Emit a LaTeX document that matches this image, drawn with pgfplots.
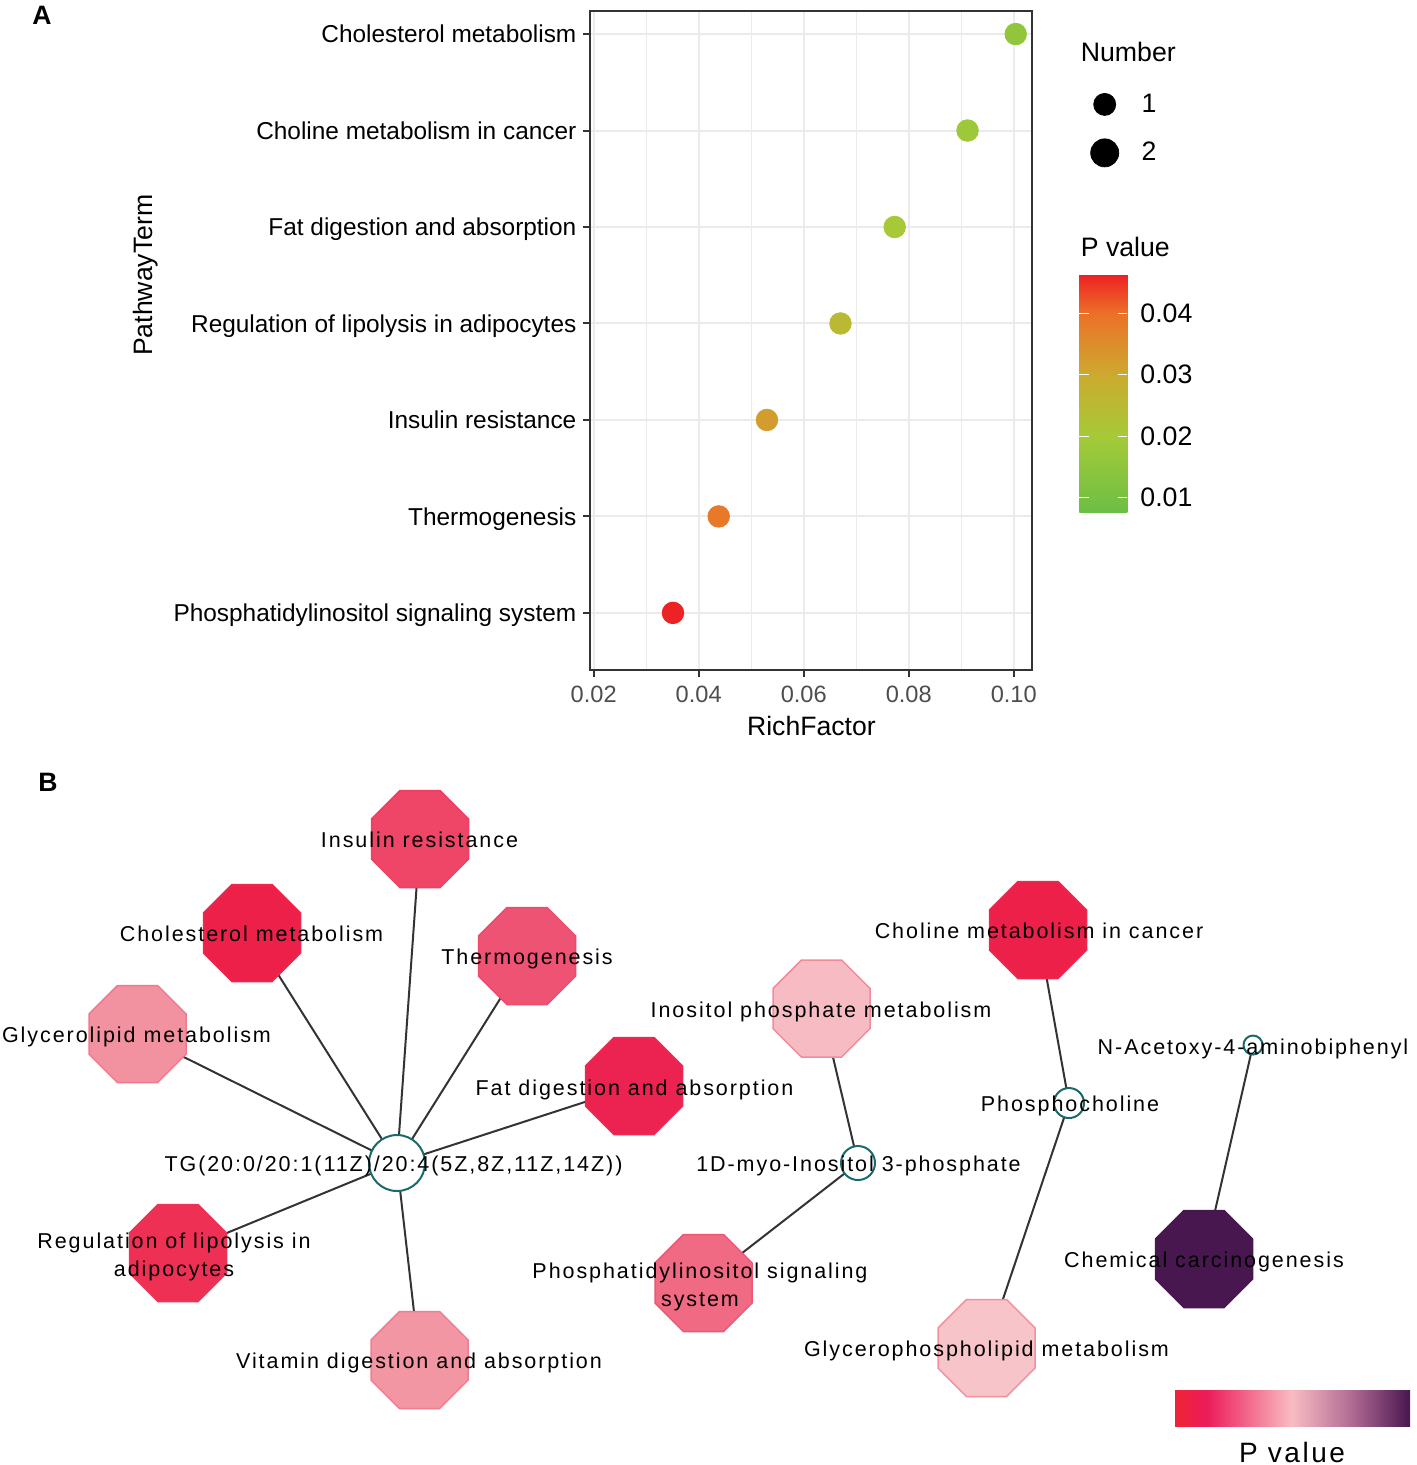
\documentclass[border=0pt]{standalone}
\usepackage{fontspec}
\setmainfont{Liberation Sans}
\newfontfamily\netfont[LetterSpace=9]{Liberation Sans}
\usepackage{pgfplots}
\pgfplotsset{compat=1.18}

\definecolor{gridgray}{HTML}{EBEBEB}
\definecolor{framegray}{HTML}{333333}
\definecolor{ticktext}{HTML}{4D4D4D}
\definecolor{edgecol}{HTML}{333333}
\definecolor{cpdteal}{HTML}{1B6A6A}
% pathway node fills / borders
\definecolor{fInsulin}{HTML}{EF4567}\definecolor{bInsulin}{HTML}{EE3E62}
\definecolor{fChol}{HTML}{EC2049}\definecolor{bChol}{HTML}{EC2A50}
\definecolor{fThermo}{HTML}{EF5373}\definecolor{bThermo}{HTML}{EE4A6B}
\definecolor{fGlyc}{HTML}{F2919F}\definecolor{bGlyc}{HTML}{F07A8B}
\definecolor{fFat}{HTML}{EC2350}\definecolor{bFat}{HTML}{EC2A55}
\definecolor{fReg}{HTML}{EE3054}\definecolor{bReg}{HTML}{EE3358}
\definecolor{fVit}{HTML}{F296A3}\definecolor{bVit}{HTML}{F07D8E}
\definecolor{fIno}{HTML}{F7BCC3}\definecolor{bIno}{HTML}{F28A98}
\definecolor{fPI}{HTML}{EF6A82}\definecolor{bPI}{HTML}{EE5674}
\definecolor{fCholine}{HTML}{EC2049}\definecolor{bCholine}{HTML}{EC2A50}
\definecolor{fGP}{HTML}{F7C4C9}\definecolor{bGP}{HTML}{F2909C}
\definecolor{fChem}{HTML}{48174F}\definecolor{bChem}{HTML}{48174F}

\newcommand\tickfont{\fontsize{12.2bp}{14bp}\selectfont}
\newcommand\xtickfont{\fontsize{11.8bp}{14bp}\selectfont}
\newcommand\titlefont{\fontsize{13.3bp}{16bp}\selectfont}
\newcommand\legfont{\fontsize{13.35bp}{16bp}\selectfont}
\newcommand\netsize{\netfont\fontsize{10.75bp}{13bp}\selectfont}
\newcommand\pvfont{\netfont\fontsize{14bp}{16bp}\selectfont}

% octagon with flat top/bottom/sides, mark size = circumradius
\pgfdeclareplotmark{oct}{%
  \pgfpathmoveto{\pgfpointpolar{22.5}{\pgfplotmarksize}}%
  \pgfpathlineto{\pgfpointpolar{67.5}{\pgfplotmarksize}}%
  \pgfpathlineto{\pgfpointpolar{112.5}{\pgfplotmarksize}}%
  \pgfpathlineto{\pgfpointpolar{157.5}{\pgfplotmarksize}}%
  \pgfpathlineto{\pgfpointpolar{202.5}{\pgfplotmarksize}}%
  \pgfpathlineto{\pgfpointpolar{247.5}{\pgfplotmarksize}}%
  \pgfpathlineto{\pgfpointpolar{292.5}{\pgfplotmarksize}}%
  \pgfpathlineto{\pgfpointpolar{337.5}{\pgfplotmarksize}}%
  \pgfpathclose
  \pgfusepathqfillstroke
}

\tikzset{
  netlab/.style={font=\netsize, text=black, inner sep=0pt, text height=7.7bp, text depth=0pt},
  octnode/.style={only marks, mark=oct, mark size=26.25bp,
    mark options={fill=f#1, draw=b#1, line width=0.75bp}},
  cpdnode/.style={only marks, mark=*, mark size=#1,
    mark options={fill=white, draw=cpdteal, line width=1bp}},
  edge/.style={edgecol, line width=1bp, no marks},
}

\begin{document}
\begin{tikzpicture}
\useasboundingbox (0,0) rectangle (708.5bp,-732.5bp);

%% ---------------- panel A ----------------
\begin{axis}[
  name=pa,
  at={(295.2bp,-335bp)}, anchor=south west,
  scale only axis, width=221bp, height=329.5bp,
  clip=false,
  xmin=0.01937, xmax=0.10356, ymin=0.408, ymax=7.239,
  xtick={0.02,0.04,0.06,0.08,0.10},
  minor xtick={0.03,0.05,0.07,0.09},
  ytick={1,...,7},
  yticklabels={Phosphatidylinositol signaling system,Thermogenesis,Insulin resistance,Regulation of lipolysis in adipocytes,Fat digestion and absorption,Choline metabolism in cancer,Cholesterol metabolism},
  scaled x ticks=false,
  xticklabel style={font=\xtickfont, text=ticktext, yshift=-1bp,
    /pgf/number format/.cd, fixed, fixed zerofill, precision=2, assume math mode=true},
  yticklabel style={font=\tickfont, text=black, text height=8.7bp, text depth=0pt},
  xmajorgrids, xminorgrids, ymajorgrids,
  major grid style={gridgray, line width=1bp},
  minor grid style={gridgray, line width=0.5bp},
  axis line style={framegray, line width=1bp},
  tick pos=left, tick align=outside,
  major tick length=3.5bp, minor tick length=0pt,
  major tick style={framegray, line width=1bp},
  xlabel={RichFactor}, ylabel={PathwayTerm},
  xlabel style={font=\titlefont, at={(axis description cs:0.5,-0.0851)}, anchor=center},
  ylabel style={font=\titlefont, at={(axis description cs:-1.0068,0.599)}, anchor=center},
  colormap={pvA}{rgb255(77pt)=(108,190,70) rgb255(100pt)=(120,193,66) rgb255(200pt)=(165,202,56) rgb255(300pt)=(204,170,46) rgb255(400pt)=(236,112,40) rgb255(464pt)=(237,32,36)},
  point meta min=0.00767, point meta max=0.04639,
  colorbar,
  colorbar shift/.style={},
  colorbar/width=24bp,
  colorbar style={
    at={(parent axis.north east)}, anchor=north west,
    xshift=23.5bp, yshift=-131.5bp,
    height=119bp,
    ytick={0.01,0.02,0.03,0.04},
    scaled y ticks=false,
    yticklabel style={font=\legfont, text=black, xshift=3bp,
      /pgf/number format/.cd, fixed, fixed zerofill, precision=2, assume math mode=true},
    axis line style={draw=none},
    ytick pos=both, yticklabel pos=right,
    tick align=inside,
    major tick length=4.7bp,
    major tick style={white, line width=0.6bp},
  },
  legend style={at={(1.131,0.8214)}, anchor=west, draw=none, fill=none,
    inner sep=0pt, font=\legfont, row sep=9.5bp,
    /tikz/every odd column/.append style={column sep=9.5bp}},
  legend cell align=left,
]
\addplot[scatter, only marks, mark=*, mark size=5.4bp, forget plot,
  point meta=explicit,
  scatter/use mapped color={draw=mapped color, fill=mapped color}]
  table[x=rf, y=k, meta=p] {
rf      k  p
0.0351  1  0.0462
0.04381 2  0.0385
0.0530  3  0.0322
0.0670  4  0.0252
0.07733 5  0.0205
0.0912  6  0.0180
0.10038 7  0.0155
};
\addlegendimage{only marks, mark=*, black, mark size=5.5bp}
\addlegendentry{1}
\addlegendimage{only marks, mark=*, black, mark size=7bp}
\addlegendentry{2}
\end{axis}

\node[anchor=west, font=\legfont, inner sep=0pt] at ([xshift=24bp,yshift=-20.5bp]pa.north east) {Number};
\node[anchor=west, font=\legfont, inner sep=0pt] at ([xshift=24bp,yshift=-118bp]pa.north east) {P value};
\node[font=\bfseries\fontsize{13.3bp}{16bp}\selectfont, inner sep=0pt] at (21bp,-7.5bp) {A};
\node[font=\bfseries\fontsize{13.3bp}{16bp}\selectfont, inner sep=0pt] at (24bp,-391bp) {B};

%% ---------------- panel B (network, pixel coordinates) ----------------
\begin{axis}[
  at={(354.25bp,-366.25bp)}, anchor=center,
  scale only axis, width=708.5bp, height=732.5bp,
  xmin=0, xmax=1417, ymin=0, ymax=1465, y dir=reverse,
  hide axis, clip=false,
  colormap={pvB}{rgb255(0pt)=(239,35,52) rgb255(14pt)=(236,28,90) rgb255(50pt)=(248,188,194) rgb255(75pt)=(178,108,148) rgb255(100pt)=(72,22,80)},
  point meta min=0, point meta max=1,
  colorbar horizontal,
  colorbar shift/.style={},
  colorbar/width=18bp,
  colorbar style={
    at={(parent axis.center)}, anchor=north west,
    xshift=232.75bp, yshift=-328.75bp,
    width=118bp,
    hide axis=false,
    xtick=\empty, ytick=\empty,
    axis line style={draw=none},
    xlabel={P value},
    xlabel style={font=\pvfont, at={(axis description cs:0.5,0)}, anchor=north, inner sep=0pt, yshift=-8bp},
  },
]
% edges
\addplot[edge] coordinates {(397,1163) (420,839)};
\addplot[edge] coordinates {(397,1163) (252,933)};
\addplot[edge] coordinates {(397,1163) (527,956)};
\addplot[edge] coordinates {(397,1163) (137.5,1034)};
\addplot[edge] coordinates {(397,1163) (634,1086)};
\addplot[edge] coordinates {(397,1163) (178,1253)};
\addplot[edge] coordinates {(397,1163) (419.5,1360)};
\addplot[edge] coordinates {(858,1163) (821.5,1008.5)};
\addplot[edge] coordinates {(858,1163) (703.5,1283)};
\addplot[edge] coordinates {(1069,1103) (1038,930)};
\addplot[edge] coordinates {(1069,1103) (986.5,1348)};
\addplot[edge] coordinates {(1253,1045) (1204,1259)};
% pathway nodes
\addplot[octnode=Insulin] coordinates {(420,839)};
\addplot[octnode=Chol] coordinates {(252,933)};
\addplot[octnode=Thermo] coordinates {(527,956)};
\addplot[octnode=Glyc] coordinates {(137.5,1034)};
\addplot[octnode=Fat] coordinates {(634,1086)};
\addplot[octnode=Reg] coordinates {(178,1253)};
\addplot[octnode=Vit] coordinates {(419.5,1360)};
\addplot[octnode=Ino] coordinates {(821.5,1008.5)};
\addplot[octnode=PI] coordinates {(703.5,1283)};
\addplot[octnode=Choline] coordinates {(1038,930)};
\addplot[octnode=GP] coordinates {(986.5,1348)};
\addplot[octnode=Chem] coordinates {(1204,1259)};
% compound nodes
\addplot[cpdnode=14bp] coordinates {(397,1163)};
\addplot[cpdnode=8.5bp] coordinates {(858,1163)};
\addplot[cpdnode=7.5bp] coordinates {(1069,1103)};
\addplot[cpdnode=4.75bp] coordinates {(1253,1045)};
% label anchors (labels are set after the axis so they lie above the nodes)
\coordinate (l1) at (axis cs:419.5,840);
\coordinate (l2) at (axis cs:251.5,934);
\coordinate (l3) at (axis cs:527,957);
\coordinate (l4) at (axis cs:136.5,1035);
\coordinate (l5) at (axis cs:634.5,1088);
\coordinate (l6) at (axis cs:174,1241);
\coordinate (l7) at (axis cs:174,1269);
\coordinate (l8) at (axis cs:419,1361);
\coordinate (l9) at (axis cs:821,1010);
\coordinate (l10) at (axis cs:700,1271);
\coordinate (l11) at (axis cs:700,1299);
\coordinate (l12) at (axis cs:1039,931);
\coordinate (l13) at (axis cs:986.5,1349);
\coordinate (l14) at (axis cs:1204,1260);
\coordinate (l15) at (axis cs:393.5,1164);
\coordinate (l16) at (axis cs:858.5,1164);
\coordinate (l17) at (axis cs:1070,1104);
\coordinate (l18) at (axis cs:1253,1047);
\end{axis}
\node[netlab] at (l1) {Insulin resistance};
\node[netlab] at (l2) {Cholesterol metabolism};
\node[netlab] at (l3) {Thermogenesis};
\node[netlab] at (l4) {Glycerolipid metabolism};
\node[netlab] at (l5) {Fat digestion and absorption};
\node[netlab] at (l6) {Regulation of lipolysis in};
\node[netlab] at (l7) {adipocytes};
\node[netlab] at (l8) {Vitamin digestion and absorption};
\node[netlab] at (l9) {Inositol phosphate metabolism};
\node[netlab] at (l10) {Phosphatidylinositol signaling};
\node[netlab] at (l11) {system};
\node[netlab] at (l12) {Choline metabolism in cancer};
\node[netlab] at (l13) {Glycerophospholipid metabolism};
\node[netlab] at (l14) {Chemical carcinogenesis};
\node[netlab] at (l15) {TG(20:0/20:1(11Z)/20:4(5Z,8Z,11Z,14Z))};
\node[netlab] at (l16) {1D-myo-Inositol 3-phosphate};
\node[netlab] at (l17) {Phosphocholine};
\node[netlab] at (l18) {N-Acetoxy-4-aminobiphenyl};
\end{tikzpicture}
\end{document}
